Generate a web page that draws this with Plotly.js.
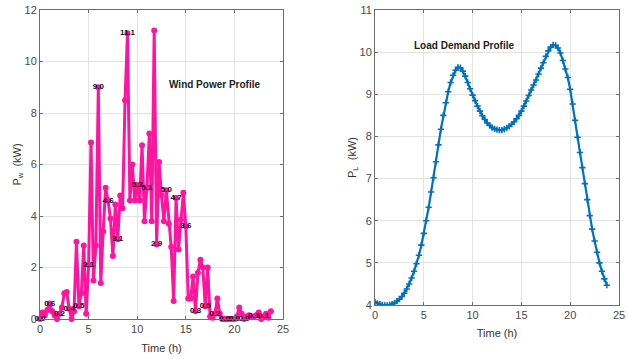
<!DOCTYPE html>
<html>
<head>
<meta charset="utf-8">
<script src="https://cdn.plot.ly/plotly-3.0.1.min.js"></script>
<style>
  html, body { margin: 0; padding: 0; background: #fff; }
  #chart { width: 628px; height: 359px; }
</style>
</head>
<body>
<div id="chart"></div>
<script>
// Time of day, 15-minute steps (h)
const hours = [
  0, 0.25, 0.5, 0.75, 1, 1.25, 1.5, 1.75, 2, 2.25, 2.5, 2.75,
  3, 3.25, 3.5, 3.75, 4, 4.25, 4.5, 4.75, 5, 5.25, 5.5, 5.75,
  6, 6.25, 6.5, 6.75, 7, 7.25, 7.5, 7.75, 8, 8.25, 8.5, 8.75,
  9, 9.25, 9.5, 9.75, 10, 10.25, 10.5, 10.75, 11, 11.25, 11.5, 11.75,
  12, 12.25, 12.5, 12.75, 13, 13.25, 13.5, 13.75, 14, 14.25, 14.5, 14.75,
  15, 15.25, 15.5, 15.75, 16, 16.25, 16.5, 16.75, 17, 17.25, 17.5, 17.75,
  18, 18.25, 18.5, 18.75, 19, 19.25, 19.5, 19.75, 20, 20.25, 20.5, 20.75,
  21, 21.25, 21.5, 21.75, 22, 22.25, 22.5, 22.75, 23, 23.25, 23.5, 23.75
];

// Wind power output P_w (kW)
const windPower = [
  0.0, 0.25, 0.15, 0.35,  0.6, 0.3, 0.15, 0.0,   0.2, 0.45, 1.0, 1.05,
  0.4, 0.0, 0.3, 3.0,     0.5, 1.0, 2.85, 0.2,   2.1, 6.85, 1.5, 2.85,
  9.0, 1.4, 3.4, 5.1,     4.6, 3.9, 2.45, 4.45,  3.1, 4.8, 4.3, 8.5,
  11.1, 4.6, 6.0, 4.6,    5.2, 4.6, 6.75, 3.8,   5.1, 7.2, 3.8, 11.2,
  2.9, 6.1, 4.8, 3.8,     5.0, 3.7, 2.8, 0.7,    4.7, 2.7, 3.85, 4.9,
  3.6, 0.8, 0.8, 1.65,    0.3, 1.8, 2.3, 2.0,    0.5, 2.0, 0.1, 0.05,
  0.2, 0.8, 0.2, 0.0,     0.0, 0.0, 0.0, 0.0,    0.0, 0.1, 0.45, 0.2,
  0.0, 0.1, 0.15, 0.1,    0.1, 0.15, 0.25, 0.0,  0.1, 0.2, 0.05, 0.3
];

// Load demand P_L (kW)
const loadDemand = [
  4.07, 4.04, 4.02, 4.00,  3.99, 3.99, 4.00, 4.02,  4.05, 4.09, 4.14, 4.20,
  4.28, 4.38, 4.50, 4.64,  4.80, 4.98, 5.18, 5.42,  5.70, 6.00, 6.32, 6.68,
  7.02, 7.40, 7.80, 8.17,  8.50, 8.80, 9.06, 9.28,  9.45, 9.57, 9.64, 9.63,
  9.55, 9.43, 9.28, 9.13,  8.98, 8.85, 8.72, 8.60,  8.49, 8.40, 8.32, 8.26,
  8.21, 8.18, 8.16, 8.15,  8.15, 8.17, 8.20, 8.24,  8.29, 8.35, 8.42, 8.50,
  8.60, 8.72, 8.84, 8.97,  9.10, 9.22, 9.34, 9.48,  9.62, 9.75, 9.90, 10.03,
  10.12, 10.17, 10.16, 10.10, 9.98, 9.80, 9.60, 9.40, 9.12, 8.77, 8.38, 7.98,
  7.62, 7.26, 6.88, 6.50,  6.12, 5.80, 5.52, 5.25,  5.00, 4.80, 4.62, 4.47
];

// Hourly value labels on the wind curve
const windLabels = windPower.map((v, i) => (i % 4 === 0 ? v.toFixed(1) : ''));

const FONT = 'Liberation Sans Narrow, Arial Narrow, Liberation Sans, Arial, sans-serif';
const PINK = '#ff14a0';
const BLUE = '#0072bd';

const traces = [
  {
    x: hours, y: windPower, xaxis: 'x', yaxis: 'y',
    mode: 'lines+markers+text',
    line: { color: PINK, width: 3 },
    marker: { color: PINK, size: 6, symbol: 'circle' },
    text: windLabels,
    textposition: 'middle center',
    textfont: { family: FONT, size: 8, color: '#111', weight: 'bold' },
    cliponaxis: false,
    hoverinfo: 'x+y'
  },
  {
    x: hours, y: loadDemand, xaxis: 'x2', yaxis: 'y2',
    mode: 'lines+markers',
    line: { color: BLUE, width: 2.2 },
    marker: { color: BLUE, size: 4.5, symbol: 'cross-thin', line: { color: BLUE, width: 1.6 } },
    hoverinfo: 'x+y'
  }
];

function axisStyle(extra) {
  return Object.assign({
    showline: true, mirror: 'ticks', linecolor: '#6e6e6e', linewidth: 1,
    ticks: 'inside', ticklen: 3, tickcolor: '#6e6e6e',
    showgrid: true, gridcolor: '#e3e3e3', gridwidth: 1,
    zeroline: false,
    tickfont: { family: FONT, size: 11, color: '#4a4a4a' },
    fixedrange: true
  }, extra);
}

const layout = {
  width: 628, height: 359,
  margin: { l: 40, r: 9, t: 10, b: 40 },
  paper_bgcolor: '#fff', plot_bgcolor: '#fff',
  showlegend: false,
  font: { family: FONT, color: '#333' },
  xaxis: axisStyle({
    domain: [0, 243 / 579], range: [0, 25], tickvals: [0, 5, 10, 15, 20, 25],
    anchor: 'y',
    title: { text: 'Time (h)', font: { family: FONT, size: 11, color: '#333' }, standoff: 10 }
  }),
  yaxis: axisStyle({
    domain: [0, 1], range: [0, 12], tickvals: [0, 2, 4, 6, 8, 10, 12],
    anchor: 'x',
    title: { text: 'P<sub>w</sub>  (kW)', font: { family: FONT, size: 11, color: '#333' }, standoff: 0 }
  }),
  xaxis2: axisStyle({
    domain: [335 / 579, 1], range: [0, 25], tickvals: [0, 5, 10, 15, 20, 25],
    anchor: 'y2',
    title: { text: 'Time (h)', font: { family: FONT, size: 11, color: '#333' }, standoff: 9 }
  }),
  yaxis2: axisStyle({
    domain: [14 / 309, 1], range: [4, 11], tickvals: [4, 5, 6, 7, 8, 9, 10, 11],
    anchor: 'x2',
    title: { text: 'P<sub>L</sub>  (kW)', font: { family: FONT, size: 11, color: '#333' }, standoff: 0 }
  }),
  annotations: [
    {
      xref: 'x', yref: 'y', x: 18.0, y: 9.1, showarrow: false,
      text: '<b>Wind Power Profile</b>',
      font: { family: FONT, size: 10, color: '#222' }
    },
    {
      xref: 'x2', yref: 'y2', x: 9.1, y: 10.15, showarrow: false,
      text: '<b>Load Demand Profile</b>',
      font: { family: FONT, size: 10, color: '#222' }
    }
  ]
};

Plotly.newPlot('chart', traces, layout, { displayModeBar: false, staticPlot: true });
</script>
</body>
</html>
